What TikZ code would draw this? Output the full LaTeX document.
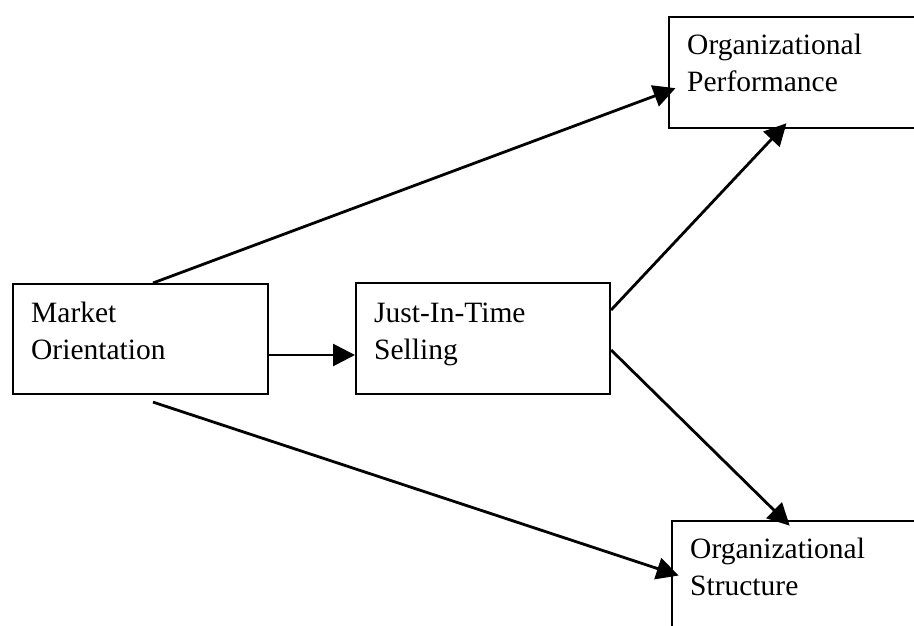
\documentclass[tikz,border=0pt]{standalone}
\usepackage{fontspec}
\setmainfont{Liberation Serif}
\usetikzlibrary{arrows.meta,calc}
\begin{document}
\begin{tikzpicture}[x=1pt,y=-1pt,
  box/.style={draw, line width=2.1pt, rectangle, inner sep=0pt, anchor=north west},
  lbl/.style={anchor=base west, inner sep=0pt, font=\fontsize{29.5}{37}\selectfont},
  link/.style={line width=2.8pt, -{Triangle[length=22pt,width=22pt]}},
  over/.style={shorten >=-8pt}]
\useasboundingbox (0,0) rectangle (914,626);
\clip (0,0) rectangle (914,626);

% boxes
\node[box, minimum width=255pt, minimum height=110pt] (mo) at (12,283) {};
\node[box, minimum width=254pt, minimum height=111pt] (jit) at (355,282) {};
\node[box, minimum width=300pt, minimum height=111pt] (perf) at (668,16) {};
\node[box, minimum width=300pt, minimum height=130pt] (struct) at (671,520) {};

% labels
\node[lbl] (mo-t) at ($(mo.north west)+(19,39)$) {\parbox[t]{220pt}{Market\\Orientation}};
\node[lbl] (jit-t) at ($(jit.north west)+(19,40)$) {\parbox[t]{220pt}{Just-In-Time\\Selling}};
\node[lbl] (perf-t) at ($(perf.north west)+(19,39)$) {\parbox[t]{220pt}{Organizational\\Performance}};
\node[lbl] (struct-t) at ($(struct.north west)+(19,38)$) {\parbox[t]{220pt}{Organizational\\Structure}};

% connectors
\draw[link, over] ($(mo.north west)+(141,0)$) -- ($(perf.north west)+(0,75)$);
\draw[link] ($(mo.north east)+(0,72)$) -- ($(jit.north west)+(0,73)$);
\draw[link, over] ($(jit.north east)+(0,28)$) -- ($(perf.south west)+(113,0)$);
\draw[link, over] ($(jit.north east)+(0,68)$) -- ($(struct.north west)+(113,0)$);
\draw[link, over] ($(mo.south west)+(141,7)$) -- ($(struct.north west)+(0,53)$);
\end{tikzpicture}
\end{document}
